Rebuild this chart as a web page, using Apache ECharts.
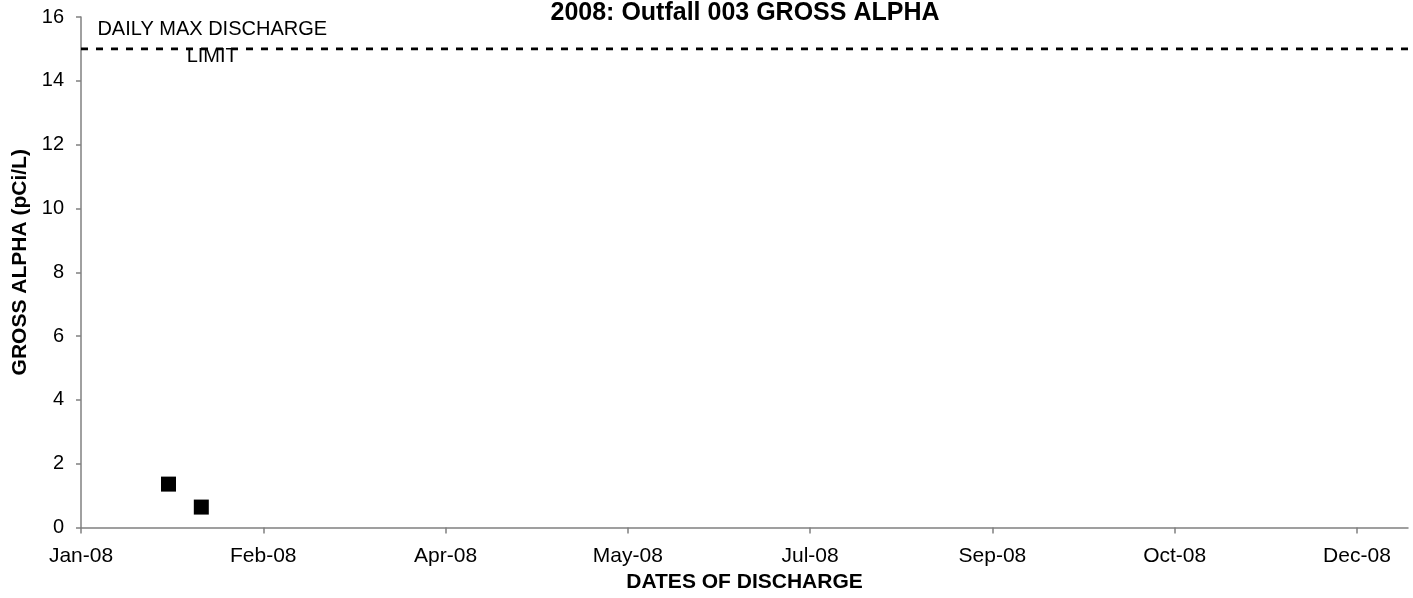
<!DOCTYPE html>
<html>
<head>
<meta charset="utf-8">
<script src="https://cdn.jsdelivr.net/npm/echarts@6/dist/echarts.min.js"></script>
<style>
html,body{margin:0;padding:0;background:#fff;}
#chart{width:1413px;height:598px;}
</style>
</head>
<body>
<div id="chart"></div>
<script>
// ---- data ----
var startDate = '2008-01-01';
var endDate = '2008-12-30';
var tickDays = [0, 50, 100, 150, 200, 250, 300, 350];
var tickLabels = ['Jan-08', 'Feb-08', 'Apr-08', 'May-08', 'Jul-08', 'Sep-08', 'Oct-08', 'Dec-08'];
var sampleDates = ['2008-01-25', '2008-02-03'];
var grossAlpha = [1.36, 0.64];
var limitValue = 15;
var limitText = 'DAILY MAX DISCHARGE\nLIMIT';
var limitTextAnchor = ['2008-02-06', 15.2];
var yTicks = [0, 2, 4, 6, 8, 10, 12, 14, 16];

function dayOf(s) {
  var p = s.split('-');
  var q = startDate.split('-');
  return (Date.UTC(+p[0], +p[1] - 1, +p[2]) - Date.UTC(+q[0], +q[1] - 1, +q[2])) / 86400000;
}
var xMax = dayOf(endDate);
var points = sampleDates.map(function (d, i) { return [dayOf(d), grossAlpha[i]]; });
var limitLine = [[0, limitValue], [xMax, limitValue]];

var FONT = '"Liberation Sans", Arial, sans-serif';
var chart = echarts.init(document.getElementById('chart'));
chart.setOption({
  animation: false,
  backgroundColor: '#ffffff',
  title: {
    text: '2008: Outfall 003 GROSS ALPHA',
    left: 745, top: 1, textAlign: 'center', padding: 0,
    textStyle: { fontFamily: FONT, fontSize: 25, fontWeight: 'bold', color: '#000' }
  },
  grid: { left: 81, right: 5, top: 17, bottom: 67.5, containLabel: false },
  xAxis: {
    type: 'value', min: 0, max: xMax, interval: 50,
    name: 'DATES OF DISCHARGE', nameLocation: 'middle', nameGap: 55,
    nameTextStyle: { fontFamily: FONT, fontSize: 21, fontWeight: 'bold', color: '#000', align: 'center', verticalAlign: 'middle' },
    axisLine: { lineStyle: { color: '#808080', width: 1.5 } },
    axisTick: { show: true, length: 6, inside: false, lineStyle: { color: '#808080', width: 1.5 }, customValues: tickDays },
    axisLabel: {
      fontFamily: FONT, fontSize: 21, color: '#000', margin: 18,
      customValues: tickDays,
      formatter: function (v) { var i = tickDays.indexOf(Math.round(v)); return i >= 0 ? tickLabels[i] : ''; }
    },
    splitLine: { show: false }
  },
  yAxis: {
    type: 'value', min: 0, max: 16, interval: 2,
    name: 'GROSS ALPHA (pCi/L)', nameLocation: 'middle', nameGap: 59,
    nameTextStyle: { fontFamily: FONT, fontSize: 21, fontWeight: 'bold', color: '#000', align: 'center', verticalAlign: 'middle', padding: [0, 0, 0, 20] },
    axisLine: { show: true, lineStyle: { color: '#808080', width: 1.5 } },
    axisTick: { show: true, length: 5, inside: false, lineStyle: { color: '#808080', width: 1.5 } },
    axisLabel: {
      fontFamily: FONT, fontSize: 20, color: '#000', margin: 17,
      formatter: function (v) { return yTicks.indexOf(v) >= 0 ? String(v) : ''; }
    },
    splitLine: { show: false }
  },
  series: [
    {
      type: 'line', data: limitLine, symbol: 'none', silent: true,
      lineStyle: { color: '#000', width: 2.7, type: [7, 8] }
    },
    {
      type: 'scatter', data: points, symbol: 'rect', symbolSize: 15,
      itemStyle: { color: '#000', opacity: 1 }
    },
    {
      type: 'scatter', data: [[dayOf(limitTextAnchor[0]), limitTextAnchor[1]]], symbolSize: 0, silent: true,
      itemStyle: { opacity: 1 },
      label: {
        show: true, position: 'inside', formatter: limitText, align: 'center', verticalAlign: 'middle',
        fontFamily: FONT, fontSize: 20, lineHeight: 27, color: '#000', opacity: 1
      }
    }
  ]
});
</script>
</body>
</html>
